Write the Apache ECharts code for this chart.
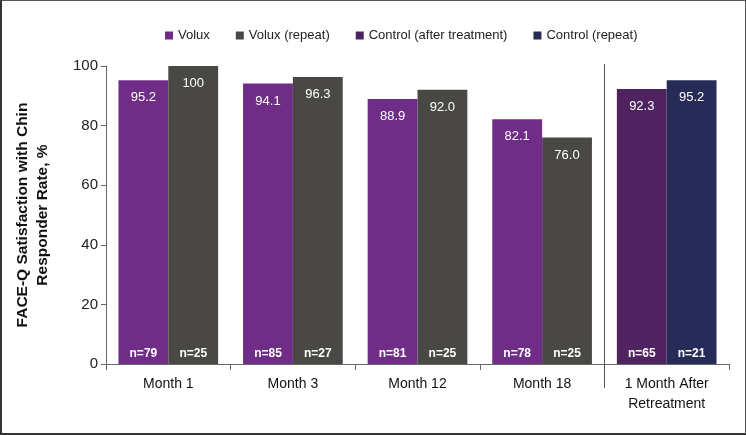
<!DOCTYPE html>
<html>
<head>
<meta charset="utf-8">
<script src="https://cdn.jsdelivr.net/npm/echarts@6/dist/echarts.min.js"></script>
<style>
html,body{margin:0;padding:0;background:#fff;}
#c{width:746px;height:435px;box-sizing:border-box;border:1px solid #555;border-left:2px solid #333;border-bottom:2px solid #333;}
</style>
</head>
<body>
<div id="c"></div>
<script>
var categories = ['Month 1', 'Month 3', 'Month 12', 'Month 18', '1 Month After\nRetreatment'];
var voluxValues = [95.2, 94.1, 88.9, 82.1, '-'];
var voluxRepeatValues = [100, 96.3, 92.0, 76.0, '-'];
var controlAfterValues = ['-', '-', '-', '-', 92.3];
var controlRepeatValues = ['-', '-', '-', '-', 95.2];
var nLeft = [79, 85, 81, 78, 65];
var nRight = [25, 27, 25, 25, 21];
var yTicks = [0, 20, 40, 60, 80, 100];

var FONT = '"Liberation Sans", Arial, sans-serif';
var colors = ['#6F2D87', '#4A4845', '#4E2360', '#272B58'];

function valLabel(p) {
  var v = p.value;
  if (v === '-' || v == null) return '';
  return v === 100 ? '100' : Number(v).toFixed(1);
}
var valueLabel = {show: true, position: 'insideTop', distance: 11, color: '#fff', fontSize: 13, fontFamily: FONT, formatter: valLabel};
function zeros(arr) { return arr.map(function () { return 0; }); }

var chart = echarts.init(document.getElementById('c'));
chart.setOption({
  animation: false,
  textStyle: {fontFamily: FONT},
  legend: {
    data: ['Volux', 'Volux (repeat)', 'Control (after treatment)', 'Control (repeat)'],
    top: 23, left: 158, itemWidth: 8, itemHeight: 8, itemGap: 26,
    icon: 'rect',
    textStyle: {fontSize: 13, color: '#222', fontFamily: FONT}
  },
  grid: {left: 104, right: 16, top: 65, bottom: 69},
  xAxis: {
    type: 'category', data: categories,
    axisLine: {lineStyle: {color: '#666', width: 1}},
    axisTick: {show: true, length: 6, lineStyle: {color: '#666'}},
    axisLabel: {fontSize: 14, color: '#111', margin: 10, lineHeight: 20, fontFamily: FONT}
  },
  yAxis: {
    type: 'value', min: 0, max: 100, interval: 20,
    name: 'FACE-Q Satisfaction with Chin\nResponder Rate, %',
    nameLocation: 'middle', nameGap: 53, nameRotate: 90,
    nameTextStyle: {fontSize: 15.5, fontWeight: 'bold', color: '#111', lineHeight: 20, fontFamily: FONT},
    splitLine: {show: false},
    axisLine: {show: true, lineStyle: {color: '#666'}},
    axisTick: {show: true, length: 5, lineStyle: {color: '#666'}},
    axisLabel: {fontSize: 15, color: '#222', margin: 8, fontFamily: FONT,
      formatter: function (v) { return yTicks.indexOf(v) >= 0 ? String(v) : ''; }}
  },
  series: [
    {name: 'nA', type: 'bar', stack: 'a', data: zeros(nLeft), barCategoryGap: '20%', barGap: '0%',
     itemStyle: {color: 'transparent'},
     label: {show: true, position: 'insideBottom', distance: 4, color: '#fff', fontSize: 12, fontWeight: 'bold',
       formatter: function (p) { return 'n=' + nLeft[p.dataIndex]; }}},
    {name: 'Volux', type: 'bar', stack: 'a', data: voluxValues, itemStyle: {color: colors[0]}, label: valueLabel},
    {name: 'Control (after treatment)', type: 'bar', stack: 'a', data: controlAfterValues, itemStyle: {color: colors[2]}, label: valueLabel},
    {name: 'nB', type: 'bar', stack: 'b', data: zeros(nRight),
     itemStyle: {color: 'transparent'},
     label: {show: true, position: 'insideBottom', distance: 4, color: '#fff', fontSize: 12, fontWeight: 'bold',
       formatter: function (p) { return 'n=' + nRight[p.dataIndex]; }}},
    {name: 'Volux (repeat)', type: 'bar', stack: 'b', data: voluxRepeatValues, itemStyle: {color: colors[1]}, label: valueLabel},
    {name: 'Control (repeat)', type: 'bar', stack: 'b', data: controlRepeatValues, itemStyle: {color: colors[3]}, label: valueLabel}
  ]
});

// separator line between Month 18 and the retreatment group
var p3 = chart.convertToPixel({xAxisIndex: 0}, 3);
var p4 = chart.convertToPixel({xAxisIndex: 0}, 4);
var sepX = Math.round((p3 + p4) / 2) + 0.5;
var yTop = chart.convertToPixel({yAxisIndex: 0}, 100);
var yBot = chart.convertToPixel({yAxisIndex: 0}, 0);
chart.setOption({
  graphic: [{
    type: 'line', silent: true, z: 10,
    shape: {x1: sepX, y1: yTop - 2, x2: sepX, y2: yBot + 24},
    style: {stroke: '#555', lineWidth: 1}
  }]
});
</script>
</body>
</html>
